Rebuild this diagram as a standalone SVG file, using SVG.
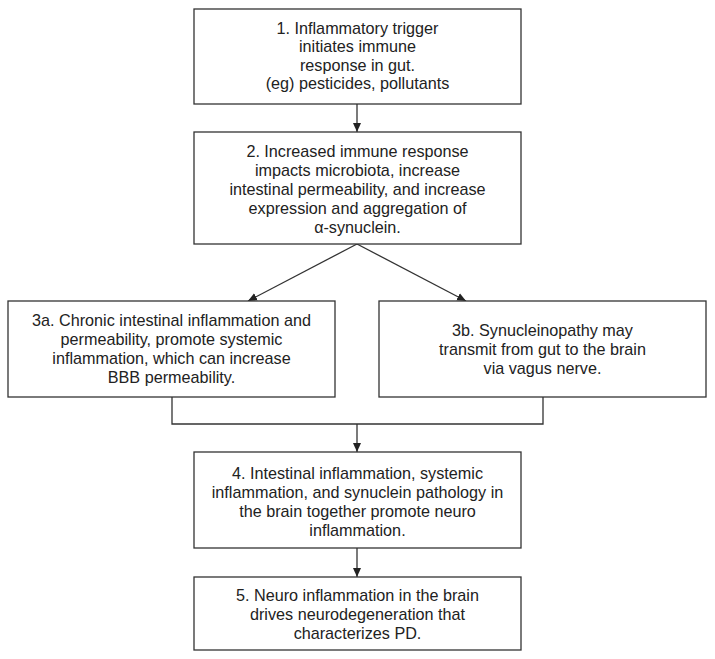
<svg xmlns="http://www.w3.org/2000/svg" width="715" height="659" viewBox="0 0 715 659">
<defs>
<marker id="ah" markerWidth="10" markerHeight="10" refX="9" refY="5" orient="auto" markerUnits="userSpaceOnUse">
<path d="M0,1 L9,5 L0,9 Z" fill="#222"/>
</marker>
<style>
.box{fill:#fff;stroke:#333;stroke-width:1.3}
.t{font-family:"Liberation Sans",Arial,sans-serif;font-size:16.2px;fill:#222;text-anchor:middle}
.c{fill:none;stroke:#333;stroke-width:1.3}
</style>
</defs>
<rect width="715" height="659" fill="#fff"/>
<g id="connectors">
<line class="c" x1="357" y1="104" x2="357" y2="132" marker-end="url(#ah)"/>
<line class="c" x1="357" y1="244" x2="248" y2="301" marker-end="url(#ah)"/>
<line class="c" x1="357" y1="244" x2="466" y2="301" marker-end="url(#ah)"/>
<polyline class="c" points="172,397 172,424 543,424 543,397"/>
<line class="c" x1="357" y1="424" x2="357" y2="452" marker-end="url(#ah)"/>
<line class="c" x1="357" y1="548" x2="357" y2="577" marker-end="url(#ah)"/>
</g>
<g id="n1">
<rect class="box" x="194" y="9" width="327" height="95"/>
<text class="t" x="357.5" y="33.5">1. Inflammatory trigger</text>
<text class="t" x="357.5" y="52">initiates immune</text>
<text class="t" x="357.5" y="70.5">response in gut.</text>
<text class="t" x="357.5" y="89">(eg) pesticides, pollutants</text>
</g>
<g id="n2">
<rect class="box" x="194" y="132" width="327" height="112"/>
<text class="t" x="357.5" y="156.5">2. Increased immune response</text>
<text class="t" x="357.5" y="175.5">impacts microbiota, increase</text>
<text class="t" x="357.5" y="194.5">intestinal permeability, and increase</text>
<text class="t" x="357.5" y="213.5">expression and aggregation of</text>
<text class="t" x="357.5" y="232.5">α-synuclein.</text>
</g>
<g id="n3a">
<rect class="box" x="8" y="301" width="327" height="96"/>
<text class="t" x="171.5" y="325.5">3a. Chronic intestinal inflammation and</text>
<text class="t" x="171.5" y="344.5">permeability, promote systemic</text>
<text class="t" x="171.5" y="363.5">inflammation, which can increase</text>
<text class="t" x="171.5" y="382.5">BBB permeability.</text>
</g>
<g id="n3b">
<rect class="box" x="379" y="301" width="327" height="96"/>
<text class="t" x="542.5" y="335.5">3b. Synucleinopathy may</text>
<text class="t" x="542.5" y="354.5">transmit from gut to the brain</text>
<text class="t" x="542.5" y="373.5">via vagus nerve.</text>
</g>
<g id="n4">
<rect class="box" x="194" y="452" width="327" height="96"/>
<text class="t" x="357.5" y="478.5">4. Intestinal inflammation, systemic</text>
<text class="t" x="357.5" y="497.5">inflammation, and synuclein pathology in</text>
<text class="t" x="357.5" y="516.5">the brain together promote neuro</text>
<text class="t" x="357.5" y="535.5">inflammation.</text>
</g>
<g id="n5">
<rect class="box" x="194" y="577" width="327" height="73"/>
<text class="t" x="357.5" y="600.5">5. Neuro inflammation in the brain</text>
<text class="t" x="357.5" y="619.5">drives neurodegeneration that</text>
<text class="t" x="357.5" y="638.5">characterizes PD.</text>
</g>
</svg>
